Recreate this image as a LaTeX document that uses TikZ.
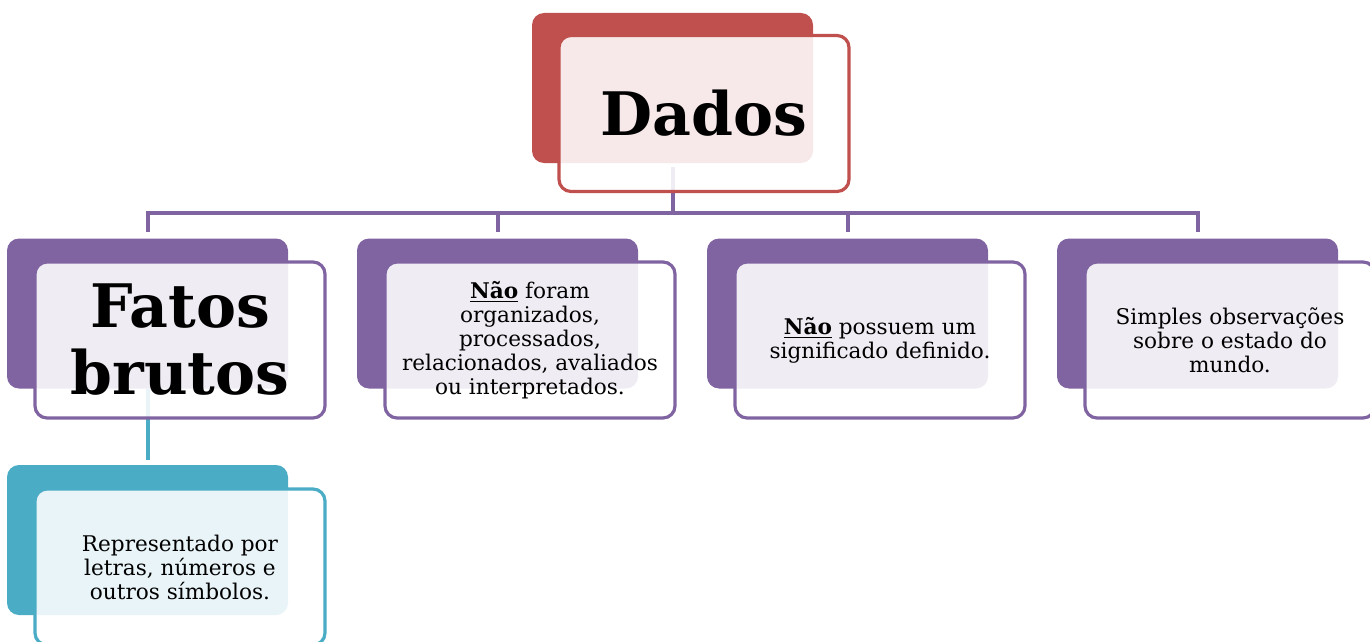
\documentclass[tikz,border=0pt]{standalone}
\usepackage{fontspec}
\setmainfont{DejaVu Serif}
\usepackage{tikz}

\definecolor{dadosred}{HTML}{C0504D}
\definecolor{fatopurple}{HTML}{8064A2}
\definecolor{fatoteal}{HTML}{4BACC6}

\begin{document}
\begin{tikzpicture}[x=0.5pt,y=-0.5pt,
  back/.style={rounded corners=6pt,fill=#1,minimum width=140.5pt,minimum height=75pt,inner sep=0pt},
  front/.style={rounded corners=6pt,draw=#1,line width=1.6pt,fill=white,fill opacity=0.88,text opacity=1,
    minimum width=145pt,minimum height=78pt,inner sep=0pt,align=center,font=\fontsize{10.8}{12}\selectfont},
  big/.style={font=\fontsize{30}{33.5}\selectfont\bfseries},
  link/.style={draw=#1,line width=2pt}]
\useasboundingbox (0,0) rectangle (1370,642);
\node [back=dadosred] (dadosb) at (672.5,88) {};
\node [back=fatopurple] (fatosb) at (147.5,313.5) {};
\node [back=fatopurple] (naob) at (497.5,313.5) {};
\node [back=fatopurple] (signb) at (847.5,313.5) {};
\node [back=fatopurple] (obsb) at (1197.5,313.5) {};
\node [back=fatoteal] (reprb) at (147.5,540) {};
\coordinate (fork) at (672.5,213);
\draw [link=fatopurple,shorten <=2pt] (dadosb.south) -- (fork);
\foreach \n in {fatosb,naob,signb,obsb}
  \draw [link=fatopurple,shorten <=3pt] (\n.north) |- (fork);
\draw [link=fatoteal,shorten >=2.5pt] (fatosb.south) -- (reprb.north);
\node [front=dadosred,big] (dados) at (704,113.5) {Dados};
\node [front=fatopurple,big] (fatos) at (180,340) {Fatos\\brutos};
\node [front=fatopurple] (nao) at (530,340) {\underline{\textbf{Não}} foram\\organizados,\\processados,\\relacionados, avaliados\\ou interpretados.};
\node [front=fatopurple] (sign) at (880,340) {\underline{\textbf{Não}} possuem um\\significado definido.};
\node [front=fatopurple] (obs) at (1230,340) {Simples observações\\sobre o estado do\\mundo.};
\node [front=fatoteal] (repr) at (180,567) {Representado por\\letras, números e\\outros símbolos.};
\end{tikzpicture}
\end{document}
